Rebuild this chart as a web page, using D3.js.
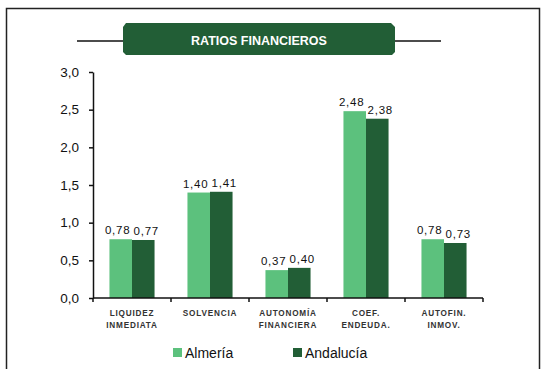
<!DOCTYPE html>
<html>
<head>
<meta charset="utf-8">
<script src="https://cdn.jsdelivr.net/npm/d3@7/dist/d3.min.js"></script>
<style>
  html, body { margin: 0; padding: 0; background: #fff; }
  svg { display: block; }
</style>
</head>
<body>
<svg id="chart" width="541" height="369"></svg>
<script>
// Financial ratios: Almería vs Andalucía
const categories = [["LIQUIDEZ", "INMEDIATA"], ["SOLVENCIA"], ["AUTONOMÍA", "FINANCIERA"], ["COEF.", "ENDEUDA."], ["AUTOFIN.", "INMOV."]];
const seriesNames = ["Almería", "Andalucía"];
const almeria = [0.78, 1.40, 0.37, 2.48, 0.78];
const andalucia = [0.77, 1.41, 0.40, 2.38, 0.73];
const yTicks = [0, 0.5, 1.0, 1.5, 2.0, 2.5, 3.0];
const colors = ["#5cc17d", "#225e36"];

const svg = d3.select("#chart");
const fmt = v => d3.format(".2f")(v).replace(".", ",");
const fmtTick = v => d3.format(".1f")(v).replace(".", ",");

// outer frame
svg.append("rect").attr("x", 6.5).attr("y", 8.5).attr("width", 533).attr("height", 370)
  .attr("fill", "none").attr("stroke", "#222").attr("stroke-width", 1.5);

// title banner with side rules
svg.append("line").attr("x1", 77).attr("x2", 441).attr("y1", 41).attr("y2", 41)
  .attr("stroke", "#111").attr("stroke-width", 1.6);
svg.append("path")
  .attr("d", "M126,23 H391 L395,27 V52 L392,55 H126 L123,52 V27 Z")
  .attr("fill", "#225e36");
svg.append("text").attr("x", 259).attr("y", 45).attr("text-anchor", "middle")
  .attr("font-family", "Liberation Sans, Arial, sans-serif").attr("font-weight", "bold")
  .attr("font-size", 12.5).attr("fill", "#fff").text("RATIOS FINANCIEROS");

const margin = { left: 93, right: 483, top: 72, bottom: 298 };
const x = d3.scaleBand().domain(d3.range(categories.length)).range([margin.left, margin.right]);
const xs = d3.scaleBand().domain(seriesNames).range([0, x.bandwidth()]).paddingInner(0).paddingOuter(0.73);
const y = d3.scaleLinear().domain([0, 3]).range([margin.bottom, margin.top]);

// y axis
const yAxis = svg.append("g").attr("transform", `translate(${margin.left},0)`)
  .call(d3.axisLeft(y).tickValues(yTicks).tickFormat(fmtTick).tickSize(4).tickSizeOuter(0));
yAxis.select(".domain").attr("stroke", "#111").attr("stroke-width", 1.5);
yAxis.selectAll(".tick line").attr("stroke", "#111").attr("stroke-width", 1.5);
yAxis.selectAll(".tick text").attr("font-family", "Liberation Sans, Arial, sans-serif")
  .attr("font-size", 13.5).attr("fill", "#111").attr("x", -14);

// bars
const data = [almeria, andalucia];
data.forEach((vals, si) => {
  svg.append("g").selectAll("rect").data(vals).join("rect")
    .attr("x", (d, i) => x(i) + xs(seriesNames[si]))
    .attr("width", xs.bandwidth())
    .attr("y", d => y(d))
    .attr("height", d => y(0) - y(d))
    .attr("fill", colors[si]);
  svg.append("g").selectAll("text").data(vals).join("text")
    .attr("x", (d, i) => x(i) + xs(seriesNames[si]) + xs.bandwidth() / 2 + (si === 0 ? -3 : 3))
    .attr("y", d => y(d) - 5)
    .attr("text-anchor", "middle")
    .attr("font-family", "Liberation Sans, Arial, sans-serif").attr("font-size", 11.5)
    .attr("letter-spacing", 0.8).attr("fill", "#111")
    .text(fmt);
});

// x axis
const xAxisG = svg.append("g").attr("transform", `translate(0,${margin.bottom})`);
xAxisG.append("line").attr("x1", margin.left).attr("x2", margin.right)
  .attr("stroke", "#111").attr("stroke-width", 1.5);
const edges = d3.range(categories.length + 1).map(i => i < categories.length ? x(i) : x(i - 1) + x.bandwidth());
xAxisG.selectAll("line.tk").data(edges).join("line").attr("class", "tk")
  .attr("x1", d => d).attr("x2", d => d).attr("y1", 0).attr("y2", 4)
  .attr("stroke", "#111").attr("stroke-width", 1.5);
categories.forEach((lines, i) => {
  const t = svg.append("text").attr("x", x(i) + x.bandwidth() / 2).attr("y", 316)
    .attr("text-anchor", "middle").attr("font-family", "Liberation Sans, Arial, sans-serif")
    .attr("font-size", 8.2).attr("font-weight", "bold").attr("letter-spacing", 0.8).attr("fill", "#333");
  lines.forEach((l, j) => t.append("tspan").attr("x", x(i) + x.bandwidth() / 2).attr("dy", j ? 11.5 : 0).text(l));
});

// legend
const legendX = [173, 293];
seriesNames.forEach((n, i) => {
  svg.append("rect").attr("x", legendX[i]).attr("y", 348).attr("width", 9).attr("height", 9).attr("fill", colors[i]);
  svg.append("text").attr("x", legendX[i] + 12).attr("y", 358)
    .attr("font-family", "Liberation Sans, Arial, sans-serif").attr("font-size", 14).attr("fill", "#111").text(n);
});
</script>
</body>
</html>
